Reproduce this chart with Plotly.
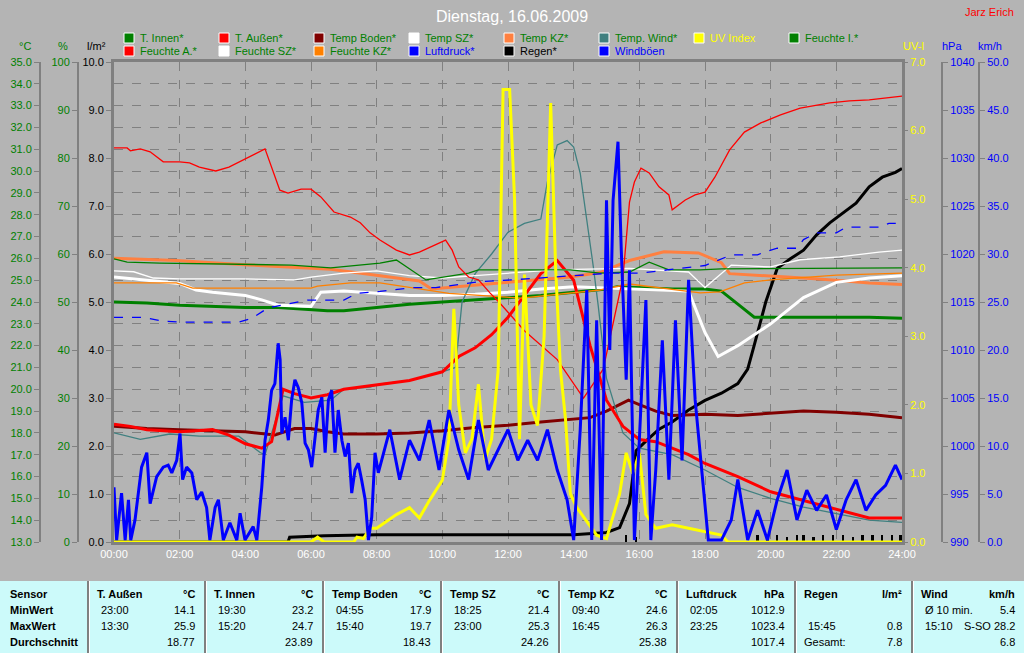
import plotly.graph_objects as go

# ---------------- DATA ----------------
t_innen_h = [0, 1, 2, 3, 4, 5, 6, 6.5, 7, 8, 9, 10, 11, 12, 13, 14, 15, 15.33, 16, 17, 18, 18.5, 19, 19.5, 20, 21, 22, 23, 24]
t_innen = [24.0, 23.95, 23.85, 23.8, 23.75, 23.75, 23.65, 23.6, 23.6, 23.75, 23.9, 24.0, 24.1, 24.2, 24.3, 24.45, 24.6, 24.7, 24.65, 24.6, 24.6, 24.5, 23.9, 23.3, 23.3, 23.3, 23.3, 23.3, 23.25]

t_aussen_h = [0, 0.5, 1, 1.5, 2, 2.5, 3, 3.5, 4, 4.5, 4.8, 5.15, 5.5, 6, 6.5, 7, 8, 9, 10, 10.5, 11, 11.5, 12, 12.5, 13, 13.5, 14, 14.5, 15, 15.5, 16, 16.5, 17, 17.5, 18, 19, 20, 21, 22, 23, 24]
t_aussen = [18.4, 18.3, 18.15, 18.1, 18.05, 18.1, 18.15, 17.9, 17.5, 17.3, 17.6, 20.0, 19.8, 19.6, 19.75, 20.0, 20.2, 20.4, 20.8, 21.5, 21.9, 22.5, 23.3, 24.3, 25.3, 25.9, 25.0, 22.0, 19.5, 18.3, 17.7, 17.6, 17.3, 17.0, 16.6, 16.0, 15.3, 14.9, 14.5, 14.1, 14.1]

t_boden_h = [0, 1, 2, 3, 4, 4.9, 5.5, 6, 6.5, 7, 8, 9, 10, 11, 12, 13, 14, 14.5, 15, 15.67, 16, 16.5, 17, 18, 19, 20, 21, 22, 23, 24]
t_boden = [18.3, 18.2, 18.15, 18.1, 18.05, 17.9, 18.2, 18.2, 18.05, 17.95, 17.95, 18.0, 18.1, 18.25, 18.35, 18.5, 18.65, 18.7, 19.0, 19.5, 19.3, 19.0, 18.8, 18.85, 18.8, 18.9, 19.0, 18.95, 18.85, 18.7]

t_sz_h = [0, 1, 2, 2.5, 3, 4, 4.5, 5, 6, 6.3, 7, 8, 9, 10, 11, 12, 13, 14, 15, 16, 17, 17.5, 18, 18.4, 19, 20, 21, 22, 23, 24]
t_sz = [25.15, 25.0, 24.85, 24.55, 24.45, 24.3, 24.1, 23.85, 23.8, 24.45, 24.5, 24.4, 24.3, 24.3, 24.35, 24.45, 24.6, 24.7, 24.65, 24.6, 24.55, 24.5, 22.6, 21.5, 22.0, 23.0, 24.2, 24.9, 25.1, 25.2]

t_kz_h = [0, 1.9, 4.1, 5.4, 6.6, 8.1, 9.3, 9.67, 10.5, 12, 13.9, 14.8, 15.7, 16.75, 17.8, 18.5, 18.75, 20, 21, 22, 23, 24]
t_kz = [26.0, 25.9, 25.7, 25.6, 25.5, 25.2, 24.96, 24.6, 24.7, 24.9, 25.15, 25.35, 25.9, 26.3, 26.25, 25.8, 25.3, 25.2, 25.1, 25.0, 24.87, 24.8]

t_wind_h = [0, 0.8, 1.7, 2.6, 3.8, 4.45, 4.6, 5.15, 5.8, 6.6, 7, 7.8, 8.1, 9, 10, 10.4, 10.6, 11, 11.5, 12, 12.5, 13, 13.2, 13.5, 13.8, 14.0, 14.2, 14.4, 14.6, 14.75, 15.0, 15.5, 16, 17, 18, 19, 20, 21, 22, 23, 24]
t_wind = [18.0, 17.7, 17.95, 17.85, 17.85, 17.1, 17.0, 19.7, 19.4, 19.5, 20.0, 20.1, 20.25, 20.4, 20.8, 21.0, 24.0, 25.3, 26.2, 27.2, 27.6, 27.8, 29.5, 31.2, 31.4, 31.1, 29.9, 27.8, 25.6, 23.8, 20.5, 18.0, 17.3, 17.0, 16.3, 15.5, 15.0, 14.6, 14.3, 14.0, 13.9]

uv_h = [0, 6.0, 6.2, 6.4, 7.3, 7.4, 7.6, 7.8, 8.0, 8.3, 8.6, 9.0, 9.3, 9.6, 10.0, 10.2, 10.35, 10.5, 10.7, 10.9, 11.1, 11.3, 11.5, 11.7, 11.85, 12.05, 12.2, 12.35, 12.5, 12.7, 12.9, 13.1, 13.3, 13.45, 13.6, 13.75, 13.9, 14.1, 14.4, 14.7, 15.0, 15.4, 15.6, 15.8, 16.0, 16.2, 16.5, 17.0, 17.5, 18.0, 18.5, 18.7, 24]
uv = [0, 0, 0.07, 0, 0, 0.07, 0.05, 0.2, 0.2, 0.3, 0.4, 0.5, 0.35, 0.6, 0.9, 1.5, 3.4, 2.0, 1.3, 1.5, 2.3, 1.2, 1.5, 2.5, 6.6, 6.6, 5.0, 1.5, 3.9, 2.0, 1.7, 3.0, 6.4, 4.0, 2.5, 1.8, 0.7, 0.5, 0.3, 0.1, 0.05, 0.7, 1.3, 1.0, 1.3, 0.4, 0.2, 0.25, 0.2, 0.15, 0.1, 0, 0]

f_innen_h = [0, 0.4, 1.4, 5.4, 6.6, 8.1, 8.6, 9.5, 10.8, 11.1, 12.7, 13.9, 14.8, 15.7, 16.3, 16.9, 17.85, 18.5, 24]
f_innen = [59.0, 58.3, 58.1, 57.7, 57.1, 58.1, 58.75, 54.6, 56.0, 56.7, 56.7, 56.7, 56.0, 56.25, 58.3, 56.7, 56.7, 56.9, 57.1]

f_aussen_h = [0, 0.4, 0.5, 0.8, 1.1, 1.5, 2.0, 2.3, 2.6, 3.1, 3.5, 4.0, 4.6, 5.05, 5.3, 5.7, 6.0, 6.3, 6.7, 7.2, 7.5, 7.8, 8.1, 8.6, 9.0, 9.3, 9.8, 10.1, 10.3, 10.5, 10.8, 11.1, 11.45, 11.75, 12.5, 13.5, 14.3, 14.9, 15.5, 15.7, 15.85, 16.05, 16.3, 16.6, 16.9, 17.0, 17.4, 17.7, 18.0, 18.3, 18.75, 19.2, 19.7, 20.3, 20.9, 21.8, 22.4, 23.0, 24.0]
f_aussen = [82.1, 82.1, 81.5, 81.9, 81.3, 79.2, 79.2, 79.0, 78.1, 77.3, 78.1, 79.8, 81.9, 73.3, 72.7, 73.5, 73.5, 71.9, 68.75, 67.7, 66.5, 64.4, 62.9, 60.8, 59.8, 60.4, 61.9, 62.9, 60.8, 57.3, 55.2, 54.6, 51.9, 49.8, 44.0, 38.0, 30.0, 36.0, 55.0, 70.8, 75.0, 77.9, 76.9, 74.0, 72.3, 69.2, 71.25, 72.3, 72.9, 76.0, 81.7, 85.4, 87.3, 89.0, 90.4, 91.5, 91.9, 92.1, 92.9]

f_sz_h = [0, 0.6, 1.2, 2, 3, 4, 5.5, 6, 7, 8, 9, 10, 11, 12, 13, 14, 15, 15.7, 17.5, 18.0, 18.8, 20.0, 20.9, 22.1, 23.3, 24]
f_sz = [56.5, 56.3, 55.0, 54.8, 54.8, 54.8, 54.6, 55.2, 56.0, 56.5, 55.5, 55.0, 55.5, 56.0, 56.5, 56.8, 57.0, 57.0, 56.25, 53.0, 57.7, 57.3, 58.8, 59.4, 60.4, 60.8]

f_kz_h = [0, 1.9, 2.4, 6.0, 6.2, 7.2, 8.1, 9.0, 10.2, 12.4, 13.9, 14.8, 15.7, 17.2, 17.85, 18.45, 19.2, 20.0, 22.0, 24.0]
f_kz = [54.0, 54.0, 52.9, 52.9, 53.3, 54.0, 54.0, 53.0, 51.8, 50.8, 51.8, 52.5, 53.75, 52.5, 51.9, 52.1, 54.0, 54.6, 55.6, 56.0]

luft_h = [0, 0.9, 1.5, 2.1, 3.8, 4.2, 4.7, 5.5, 5.9, 7.0, 7.4, 8.1, 9.1, 9.8, 11.1, 12.1, 13.3, 14.4, 15.1, 16.0, 17.0, 18.0, 18.8, 19.6, 19.8, 20.2, 20.8, 21.0, 21.4, 22.0, 22.3, 23.3, 23.6, 24.0]
luft = [1013.4, 1013.4, 1013.0, 1012.9, 1012.9, 1013.3, 1014.4, 1014.9, 1015.2, 1015.2, 1015.9, 1016.1, 1016.5, 1016.5, 1017.1, 1017.3, 1017.6, 1017.8, 1018.0, 1018.0, 1018.4, 1018.8, 1019.9, 1019.9, 1020.2, 1020.6, 1020.6, 1021.5, 1022.2, 1022.2, 1022.8, 1022.8, 1023.2, 1023.2]

regen_h = [0, 5.3, 5.35, 6.4, 8, 10, 14, 15.0, 15.4, 15.7, 15.9, 16.2, 16.6, 17.0, 17.5, 18.0, 18.5, 19.0, 19.3, 19.5, 19.7, 19.85, 20.2, 20.6, 21, 21.4, 21.8, 22.2, 22.6, 23, 23.4, 23.8, 24]
regen = [0, 0, 0.1, 0.13, 0.15, 0.15, 0.15, 0.2, 0.3, 0.8, 1.9, 2.1, 2.35, 2.5, 2.75, 2.95, 3.1, 3.3, 3.6, 4.1, 4.6, 5.0, 5.7, 5.9, 6.08, 6.4, 6.65, 6.85, 7.06, 7.4, 7.6, 7.7, 7.78]

regen_rate_h = [15.6, 15.9, 19.6, 19.9, 20.2, 20.5, 20.8, 21.0, 21.3, 21.6, 21.9, 22.2, 22.5, 22.8, 23.1, 23.4, 23.7, 23.95]
regen_rate = [0.15, 0.1, 0.15, 0.15, 0.15, 0.1, 0.15, 0.15, 0.1, 0.15, 0.15, 0.15, 0.1, 0.15, 0.15, 0.15, 0.15, 0.15]

boeen_h = [0.0, 0.08, 0.23, 0.34, 0.44, 0.51, 0.64, 0.84, 1.0, 1.1, 1.3, 1.5, 1.65, 1.76, 1.91, 2.01, 2.09, 2.21, 2.37, 2.52, 2.67, 2.82, 2.92, 3.08, 3.18, 3.33, 3.53, 3.74, 3.84, 3.99, 4.24, 4.35, 4.5, 4.6, 4.7, 4.8, 4.9, 5.0, 5.06, 5.11, 5.21, 5.31, 5.41, 5.51, 5.61, 5.72, 5.82, 5.92, 6.02, 6.12, 6.22, 6.33, 6.43, 6.53, 6.63, 6.73, 6.83, 6.94, 7.04, 7.14, 7.24, 7.34, 7.44, 7.54, 7.65, 7.75, 7.85, 7.95, 8.05,
           8.4, 8.7, 9.0, 9.3, 9.6, 9.9, 10.2, 10.5, 10.8, 11.1, 11.4, 11.7, 12.0, 12.3, 12.6, 12.9, 13.2, 13.5, 13.8, 14.0, 14.2, 14.4, 14.55, 14.7, 14.85, 15.0, 15.1, 15.2, 15.35, 15.45, 15.6, 15.7, 15.85, 16.0, 16.2, 16.35, 16.5, 16.7, 16.9, 17.1, 17.3, 17.5, 17.7, 17.9, 18.1, 18.5, 18.8, 19.0, 19.3, 19.6, 19.9, 20.2, 20.5, 20.8, 21.1, 21.4, 21.7, 22.0, 22.3, 22.6, 22.9, 23.2, 23.5, 23.8, 24.0]
boeen = [5.7, 0.2, 5.1, 0.2, 4.4, 0.2, 2.3, 7.8, 9.3, 4.0, 6.8, 7.8, 8.0, 7.2, 8.5, 11.3, 6.5, 7.8, 7.2, 4.4, 5.2, 3.6, 0.2, 3.6, 4.4, 0.2, 2.0, 0.2, 3.0, 0.2, 1.6, 0.2, 5.7, 10.6, 12.7, 15.8, 16.5, 20.7, 19.0, 11.3, 13.0, 10.6, 14.8, 16.9, 16.1, 14.5, 10.3, 9.6, 7.8, 10.6, 13.75, 15.1, 9.3, 14.8, 15.8, 9.3, 13.75, 10.6, 8.9, 10.3, 5.1, 7.5, 8.2, 6.5, 4.4, 0.2, 2.6, 9.3, 7.2,
         11.7, 6.5, 10.6, 8.5, 12.7, 7.5, 13.75, 9.6, 6.5, 12.7, 7.5, 9.6, 11.7, 8.5, 10.6, 8.5, 11.7, 7.5, 4.4, 0.2, 11.7, 26.25, 0.2, 23.1, 0.2, 35.6, 20.0, 35.6, 41.7, 30.4, 16.9, 28.3, 0.2, 10.6, 25.2, 0.2, 7.5, 21.0, 6.5, 23.1, 8.5, 27.3, 14.8, 7.5, 0.2, 0.2, 2.3, 6.5, 0.2, 3.3, 0.2, 4.4, 7.5, 2.3, 5.4, 3.3, 4.9, 1.3, 4.4, 6.5, 3.3, 4.9, 5.9, 8.0, 6.5]

hour_ticks = [0, 2, 4, 6, 8, 10, 12, 14, 16, 18, 20, 22, 24]
hour_labels = ["00:00", "02:00", "04:00", "06:00", "08:00", "10:00", "12:00", "14:00", "16:00", "18:00", "20:00", "22:00", "24:00"]

legend_names = ["T. Innen*", "T. Außen*", "Temp Boden*", "Temp SZ*", "Temp KZ*", "Temp. Wind*", "UV Index", "Feuchte I.*",
                "Feuchte A.*", "Feuchte SZ*", "Feuchte KZ*", "Luftdruck*", "Regen*", "Windböen"]
legend_colors = ["#008000", "#FF0000", "#800000", "#FFFFFF", "#FF8040", "#408080", "#FFFF00", "#008000",
                 "#FF0000", "#FFFFFF", "#FF8000", "#0000FF", "#000000", "#0000FF"]
legend_text_colors = ["#008000"] * 6 + ["#FFFF00", "#008000"] + ["#008000"] * 3 + ["#0000FF", "#000000", "#0000FF"]

tbl_sensor = ["Sensor", "MinWert", "MaxWert", "Durchschnitt"]
tbl_names = ["T. Außen", "T. Innen", "Temp Boden", "Temp SZ", "Temp KZ", "Luftdruck", "Regen", "Wind"]
tbl_units = ["°C", "°C", "°C", "°C", "°C", "hPa", "l/m²", "km/h"]
tbl_min_time = ["23:00", "19:30", "04:55", "18:25", "09:40", "02:05", "", "Ø 10 min."]
tbl_min_val = ["14.1", "23.2", "17.9", "21.4", "24.6", "1012.9", "", "5.4"]
tbl_max_time = ["13:30", "15:20", "15:40", "23:00", "16:45", "23:25", "15:45", "15:10"]
tbl_max_val = ["25.9", "24.7", "19.7", "25.3", "26.3", "1023.4", "0.8", "S-SO 28.2"]
tbl_avg_label = ["", "", "", "", "", "", "Gesamt:", ""]
tbl_avg_val = ["18.77", "23.89", "18.43", "24.26", "25.38", "1017.4", "7.8", "6.8"]

# ---------------- LAYOUT HELPERS ----------------
W, H = 1024, 653
BG = "#B4B4B4"
GRID = "#808080"
FONT = "Liberation Sans, Arial, sans-serif"


def px(x):
    return x / W


def py(y):
    return 1 - y / H


fig = go.Figure()


def line(xs, ys, color, width, axis, dash="solid"):
    fig.add_trace(go.Scatter(x=xs, y=ys, mode="lines", yaxis=axis, showlegend=False,
                             line=dict(color=color, width=width, dash=dash), hoverinfo="skip"))


# draw order
line(luft_h, luft, "#0000FF", 1.3, "y5", "dash")
line(f_kz_h, f_kz, "#FF8000", 1.3, "y3")
line(f_sz_h, f_sz, "#FFFFFF", 1.3, "y3")
line(f_innen_h, f_innen, "#008000", 1.3, "y3")
line(t_kz_h, t_kz, "#FF8040", 3, "y2")
line(t_innen_h, t_innen, "#008000", 3, "y2")
line(t_sz_h, t_sz, "#FFFFFF", 3, "y2")
line(t_boden_h, t_boden, "#800000", 3, "y2")
line(t_wind_h, t_wind, "#408080", 1.3, "y2")
line(f_aussen_h, f_aussen, "#FF0000", 1.3, "y3")
line(t_aussen_h, t_aussen, "#FF0000", 3, "y2")
line(boeen_h, boeen, "#0000FF", 3, "y6")
line(uv_h, uv, "#FFFF00", 3, "y4")
fig.add_trace(go.Bar(x=regen_rate_h, y=regen_rate, marker=dict(color="#000000", line=dict(width=0)),
                     width=0.07, showlegend=False, hoverinfo="skip"))
line(regen_h, regen, "#000000", 3, "y")

xd = [px(114), px(902)]
yd = [py(542), py(62)]

fig.update_layout(
    width=W, height=H, margin=dict(l=0, r=0, t=0, b=0),
    paper_bgcolor=BG, plot_bgcolor=BG, bargap=0,
    font=dict(family=FONT, size=11),
    xaxis=dict(domain=xd, range=[0, 24], tickvals=hour_ticks, ticktext=hour_labels,
               tickfont=dict(family=FONT, size=11, color="#FFFFFF"), showgrid=True, gridcolor=GRID,
               griddash="dash", gridwidth=1, zeroline=False, showline=True, linecolor=GRID, linewidth=3,
               mirror=True, ticks="", automargin=False, fixedrange=True),
    yaxis=dict(domain=yd, range=[0, 10], dtick=1, tickformat=".1f", tickfont=dict(family=FONT, size=11, color="#000000"),
               showgrid=False, zeroline=False, showline=True, linecolor=GRID, linewidth=3, mirror=True,
               ticks="outside", ticklen=5, tickcolor=GRID, automargin=False),
    yaxis2=dict(overlaying="y", anchor="free", position=px(40), side="left", range=[13, 35], dtick=1,
                tickformat=".1f", tickfont=dict(family=FONT, size=11, color="#008000"), showgrid=True,
                gridcolor=GRID, griddash="dash", gridwidth=1, zeroline=False, showline=True, linecolor=GRID,
                linewidth=2, ticks="outside", ticklen=5, tickcolor=GRID, automargin=False),
    yaxis3=dict(overlaying="y", anchor="free", position=px(78), side="left", range=[0, 100], dtick=10,
                tickfont=dict(family=FONT, size=11, color="#008000"), showgrid=False, zeroline=False,
                showline=True, linecolor=GRID, linewidth=2, ticks="outside", ticklen=5, tickcolor=GRID,
                automargin=False),
    yaxis4=dict(overlaying="y", anchor="x", side="right", range=[0, 7], dtick=1, tickformat=".1f",
                tickfont=dict(family=FONT, size=11, color="#FFFF00"), showgrid=False, zeroline=False,
                showline=False, ticks="outside", ticklen=5, tickcolor=GRID, automargin=False),
    yaxis5=dict(overlaying="y", anchor="free", position=px(942), side="right", range=[990, 1040], dtick=5,
                tickfont=dict(family=FONT, size=11, color="#0000FF"), showgrid=False, zeroline=False,
                showline=True, linecolor=GRID, linewidth=2, ticks="outside", ticklen=5, tickcolor=GRID,
                automargin=False),
    yaxis6=dict(overlaying="y", anchor="free", position=px(979), side="right", range=[0, 50], dtick=5,
                tickformat=".1f", tickfont=dict(family=FONT, size=11, color="#0000FF"), showgrid=False,
                zeroline=False, showline=True, linecolor=GRID, linewidth=2, ticks="outside", ticklen=5,
                tickcolor=GRID, automargin=False),
)

ann = []
shapes = []


def text(x, y, s, color="#000000", size=11, xanchor="left", bold=False):
    ann.append(dict(x=px(x), y=py(y), xref="paper", yref="paper", text=("<b>%s</b>" % s) if bold else s,
                    showarrow=False, xanchor=xanchor, yanchor="middle",
                    font=dict(family=FONT, size=size, color=color)))


# title etc.
text(512, 16, "Dienstag, 16.06.2009", "#FFFFFF", 16, "center")
text(1016, 12, "Jarz Erich", "#FF0000", 11, "right")

# axis titles
text(25, 46, "°C", "#008000", 11, "center")
text(63, 46, "%", "#008000", 11, "center")
text(96, 46, "l/m²", "#000000", 11, "center")
text(913, 46, "UV-I", "#FFFF00", 11, "center")
text(952, 46, "hPa", "#0000FF", 11, "center")
text(990, 46, "km/h", "#0000FF", 11, "center")

# custom legend
leg_x = [124, 219, 314, 409, 504, 599, 694, 789]
for i, name in enumerate(legend_names):
    row = 0 if i < 8 else 1
    col = i if i < 8 else i - 8
    x0 = leg_x[col]
    yc = 38 if row == 0 else 51
    shapes.append(dict(type="rect", xref="paper", yref="paper", x0=px(x0), x1=px(x0 + 10),
                       y0=py(yc + 5), y1=py(yc - 5), fillcolor=legend_colors[i],
                       line=dict(color="#FFFFFF", width=1)))
    text(x0 + 14, yc, name, legend_text_colors[i], 11)

# ---- statistics table ----
shapes.append(dict(type="rect", xref="paper", yref="paper", x0=0, x1=1, y0=0, y1=py(581),
                   fillcolor="#CCFAFA", line=dict(width=0), layer="below"))
seps = [88, 205, 323, 441, 559, 677, 795, 912]
rights = seps[1:] + [1025]
row_y = [594, 610, 626, 642]
for i, s in enumerate(seps):
    shapes.append(dict(type="line", xref="paper", yref="paper", x0=px(s), x1=px(s), y0=0, y1=py(581),
                       line=dict(color="#808080", width=2)))
    shapes.append(dict(type="line", xref="paper", yref="paper", x0=px(s + 1.5), x1=px(s + 1.5), y0=0,
                       y1=py(581), line=dict(color="#FFFFFF", width=1)))
for j, s in enumerate(tbl_sensor):
    text(8, row_y[j], s, "#000000", 11, "left", True)
for i in range(len(tbl_names)):
    l = seps[i]
    r = rights[i] - 8
    text(l + 7, row_y[0], tbl_names[i], "#000000", 11, "left", True)
    text(r, row_y[0], tbl_units[i], "#000000", 11, "right", True)
    text(l + 11, row_y[1], tbl_min_time[i], "#000000", 11, "left")
    text(r, row_y[1], tbl_min_val[i], "#000000", 11, "right")
    text(l + 11, row_y[2], tbl_max_time[i], "#000000", 11, "left")
    text(r, row_y[2], tbl_max_val[i], "#000000", 11, "right")
    text(l + 7, row_y[3], tbl_avg_label[i], "#000000", 11, "left")
    text(r, row_y[3], tbl_avg_val[i], "#000000", 11, "right")

fig.update_layout(annotations=ann, shapes=shapes)
fig.write_html("out.html", config={"displayModeBar": False},
               post_script="document.body.style.margin='0';document.body.style.overflow='hidden';")
